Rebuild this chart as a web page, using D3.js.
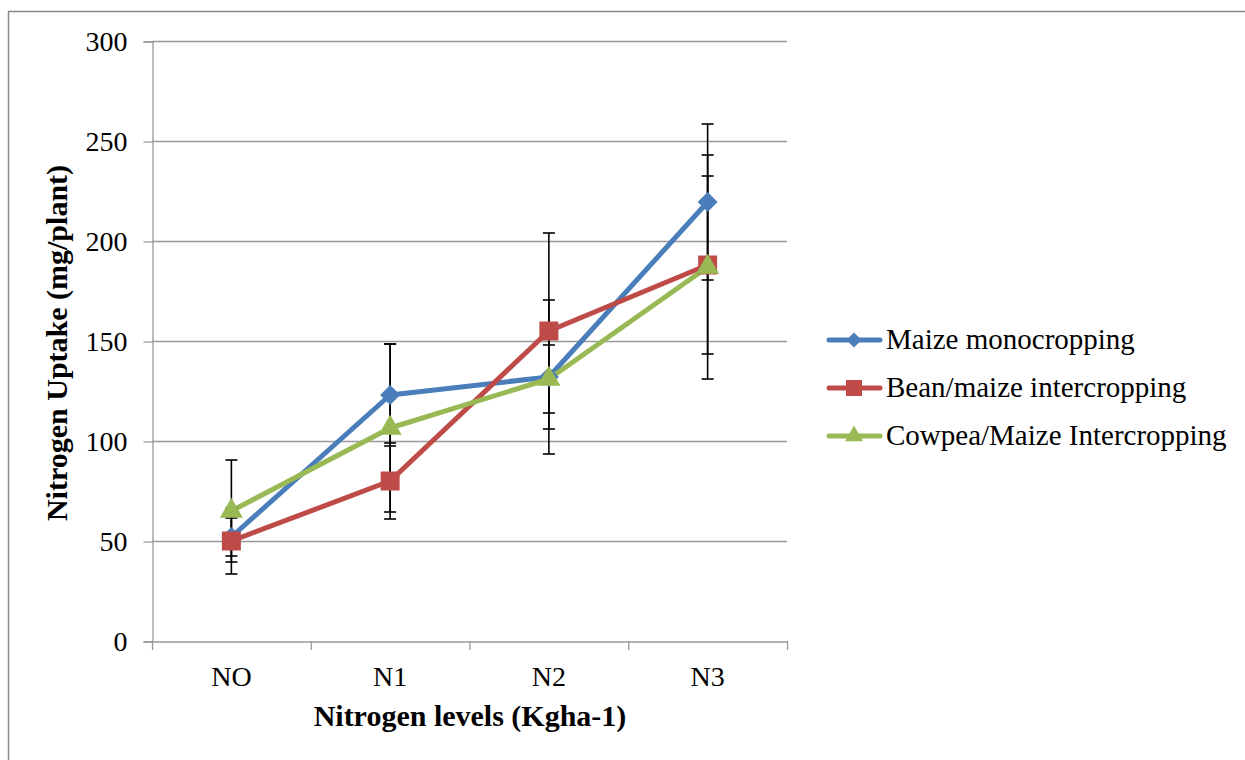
<!DOCTYPE html>
<html>
<head>
<meta charset="utf-8">
<script src="https://cdn.jsdelivr.net/npm/d3@7"></script>
<style>
  body { margin: 0; background: #fff; }
</style>
</head>
<body>
<div id="chart"></div>
<script>
const width = 1245
const height = 760
const serif = "'Liberation Serif', 'Times New Roman', serif"

const levels = ["NO", "N1", "N2", "N3"]
const seriesNames = ["Maize monocropping", "Bean/maize intercropping", "Cowpea/Maize Intercropping"]
const seriesColors = ["#4a7ebb", "#be4b48", "#98b954"]
const maize = [52, 123, 132, 219.5]
const bean = [50, 80, 155, 188]
const cowpea = [65, 106.5, 131, 187]
const maizeErr = [9.5, 25.5, 38.5, 39]
const beanErr = [16.5, 19, 49, 44.5]
const cowpeaErr = [25.5, 42, 17, 56]
const yTicks = [0, 50, 100, 150, 200, 250, 300]

const svg = d3.select("#chart")
  .append("svg")
    .attr("width", width)
    .attr("height", height)
    .style("font-family", serif)

// outer frame
svg.append("path")
  .attr("d", `M8.5,${height} V11.5 H${width}`)
  .attr("fill", "none")
  .attr("stroke", "#888")
  .attr("stroke-width", 1.5)

const x = d3.scaleBand().domain(levels).range([152, 787])
const y = d3.scaleLinear().domain([0, 300]).range([641, 41])

// gridlines
svg.append("g")
  .selectAll("line")
  .data(yTicks.filter(d => d > 0))
  .join("line")
    .attr("x1", 152).attr("x2", 787)
    .attr("y1", d => y(d) + 0.5).attr("y2", d => y(d) + 0.5)
    .attr("stroke", "#999")
    .attr("stroke-width", 1.3)

// y axis
const yAxis = svg.append("g")
  .attr("transform", "translate(152.5,0.5)")
  .call(d3.axisLeft(y).tickValues(yTicks).tickSize(9).tickPadding(16))
yAxis.attr("font-family", null)
yAxis.select(".domain").attr("stroke", "#999").attr("stroke-width", 1.3)
yAxis.selectAll(".tick line").attr("stroke", "#999").attr("stroke-width", 1.3)
yAxis.selectAll(".tick text")
  .attr("fill", "#000")
  .style("font-size", "28px")
  .style("font-family", serif)

// x axis
const xAxis = svg.append("g")
  .attr("transform", "translate(0,641.5)")
  .call(d3.axisBottom(x).tickSize(0).tickPadding(25))
xAxis.attr("font-family", null)
xAxis.select(".domain").attr("stroke", "#999").attr("stroke-width", 1.3)
xAxis.selectAll(".tick text")
  .attr("fill", "#000")
  .style("font-size", "28px")
  .style("font-family", serif)
svg.append("g")
  .selectAll("line")
  .data(d3.range(levels.length + 1))
  .join("line")
    .attr("x1", i => x.range()[0] + i * x.bandwidth() + 0.5)
    .attr("x2", i => x.range()[0] + i * x.bandwidth() + 0.5)
    .attr("y1", 641).attr("y2", 650)
    .attr("stroke", "#999")
    .attr("stroke-width", 1.3)

// axis titles
svg.append("text")
  .attr("x", 470).attr("y", 726)
  .attr("text-anchor", "middle")
  .style("font-family", serif)
  .style("font-size", "30px")
  .style("font-weight", "bold")
  .text("Nitrogen levels (Kgha-1)")

svg.append("text")
  .attr("transform", "translate(67,343) rotate(-90)")
  .attr("text-anchor", "middle")
  .style("font-family", serif)
  .style("font-size", "30px")
  .style("font-weight", "bold")
  .text("Nitrogen Uptake (mg/plant)")

const series = [
  { name: seriesNames[0], values: maize, err: maizeErr, color: seriesColors[0], sym: d3.symbolSquare, rot: 45, size: 200, lsize: 115 },
  { name: seriesNames[1], values: bean, err: beanErr, color: seriesColors[1], sym: d3.symbolSquare, rot: 0, size: 361, lsize: 256 },
  { name: seriesNames[2], values: cowpea, err: cowpeaErr, color: seriesColors[2], sym: d3.symbolTriangle, rot: 0, size: 230, lsize: 140 }
]

const cx = d => x(d) + x.bandwidth() / 2

const line = d3.line()
  .x((d, i) => cx(levels[i]))
  .y(d => y(d))

// lines
series.forEach(s => {
  svg.append("path")
    .datum(s.values)
    .attr("d", line)
    .attr("fill", "none")
    .attr("stroke", s.color)
    .attr("stroke-width", 5)
    .attr("stroke-linejoin", "round")
})

// error bars
series.forEach(s => {
  const g = svg.append("g")
  s.values.forEach((v, i) => {
    const px = cx(levels[i])
    const lo = y(v - s.err[i]), hi = y(v + s.err[i])
    g.append("line").attr("x1", px).attr("x2", px).attr("y1", lo).attr("y2", hi)
      .attr("stroke", "#000").attr("stroke-width", 1.6)
    ;[lo, hi].forEach(py => {
      g.append("line").attr("x1", px - 6).attr("x2", px + 6).attr("y1", py).attr("y2", py)
        .attr("stroke", "#000").attr("stroke-width", 1.6)
    })
  })
})

// markers
series.forEach(s => {
  svg.append("g")
    .selectAll("path")
    .data(s.values)
    .join("path")
      .attr("transform", (d, i) => `translate(${cx(levels[i])},${y(d)}) rotate(${s.rot})`)
      .attr("d", d3.symbol().type(s.sym).size(s.size))
      .attr("fill", s.color)
})

// legend
const legend = svg.append("g")
series.forEach((s, i) => {
  const ly = 340 + i * 48
  legend.append("line")
    .attr("x1", 829).attr("x2", 880).attr("y1", ly).attr("y2", ly)
    .attr("stroke", s.color).attr("stroke-width", 5).attr("stroke-linecap", "round")
  legend.append("path")
    .attr("transform", `translate(854,${ly}) rotate(${s.rot})`)
    .attr("d", d3.symbol().type(s.sym).size(s.lsize))
    .attr("fill", s.color)
  legend.append("text")
    .attr("x", 886).attr("y", ly + 9)
    .style("font-family", serif)
    .style("font-size", "29px")
    .text(s.name)
})
</script>
</body>
</html>
